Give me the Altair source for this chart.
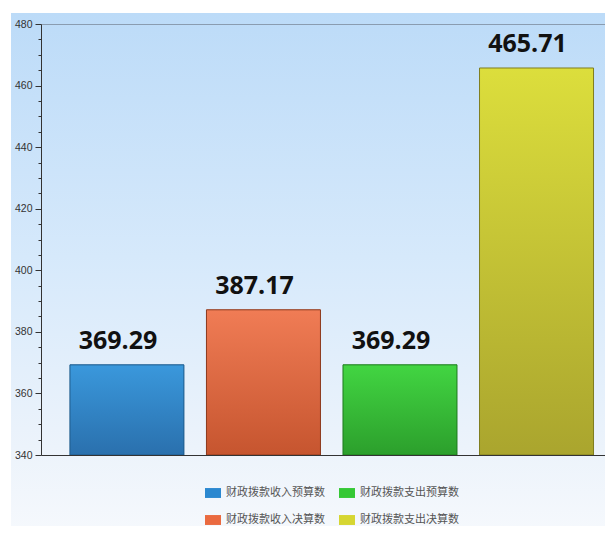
import altair as alt
import pandas as pd

categories = ["财政拨款收入预算数", "财政拨款收入决算数", "财政拨款支出预算数", "财政拨款支出决算数"]
values = [369.29, 387.17, 369.29, 465.71]
legend_colors = ["#2b88d0", "#ea6a40", "#35c835", "#d6d632"]
grad_top = ["#3a98dc", "#f07c55", "#42d542", "#dcde3c"]
grad_bot = ["#2a70ad", "#c6552f", "#2c9f2c", "#aaa52e"]
edge = ["#1f5a8a", "#8c3a1e", "#1f7a1f", "#7f7d1f"]
y_ticks = list(range(340, 481, 5))

W, H = 564, 431

df = pd.DataFrame({"cat": categories, "val": values})

x_enc = alt.X("cat:N", sort=None,
              scale=alt.Scale(paddingInner=0.165, paddingOuter=0.148, align=0.716),
              axis=alt.Axis(labels=False, ticks=False, title=None, domainColor="#333333",
                            domainWidth=1, grid=False, zindex=1))
y_enc = alt.Y("val:Q",
              scale=alt.Scale(domain=[340, 480], zero=False, nice=False, clamp=True),
              axis=alt.Axis(values=y_ticks, title=None,
                            labelExpr="datum.value % 20 === 0 ? datum.label : ''",
                            tickSize={"condition": {"test": "datum.value % 20 === 0", "value": 6}, "value": 3},
                            grid=True,
                            gridColor={"condition": {"test": "datum.value === 480", "value": "#8a9cb0"},
                                       "value": "transparent"},
                            domainColor="#333333", tickColor="#333333",
                            labelFont="Liberation Sans", labelFontSize=10.5, labelColor="#333333",
                            labelPadding=3, zindex=1))

bg = alt.Chart(pd.DataFrame({"a": [0]})).mark_rect(
    fill={"gradient": "linear", "x1": 0, "y1": 0, "x2": 0, "y2": 1,
          "stops": [{"offset": 0, "color": "#bcdbf8"},
                    {"offset": 0.45, "color": "#d6e9fb"},
                    {"offset": 0.8, "color": "#ecf3fb"},
                    {"offset": 1, "color": "#f8fafd"}]}
).encode(x=alt.value(-30), x2=alt.value(W + 20), y=alt.value(-11), y2=alt.value(H + 100))

base = alt.Chart(df).mark_bar().encode(
    x=x_enc, y=y_enc,
    color=alt.Color("cat:N",
                    scale=alt.Scale(domain=categories, range=legend_colors),
                    legend=alt.Legend(title=None, orient="none", legendX=164, legendY=461,
                                      columns=2, columnPadding=14, rowPadding=14,
                                      symbolType="M-1,-0.62H1V0.62H-1Z", symbolSize=256,
                                      symbolStrokeWidth=0,
                                      labelFont="Noto Sans CJK SC", labelFontSize=11,
                                      labelColor="#555555", labelOffset=5))
)

layers = [bg, base]
for i, c in enumerate(categories):
    g = {"gradient": "linear", "x1": 0, "y1": 0, "x2": 0, "y2": 1,
         "stops": [{"offset": 0, "color": grad_top[i]}, {"offset": 1, "color": grad_bot[i]}]}
    layers.append(
        alt.Chart(df).transform_filter(alt.datum.cat == c)
        .mark_bar(fill=g, stroke=edge[i], strokeWidth=1)
        .encode(x=x_enc, y=y_enc)
    )

text = alt.Chart(df).mark_text(dx=-9, dy=-16, baseline="alphabetic", font="Open Sans",
                               fontSize=25, fontWeight="bold", color="#111111").encode(
    x=x_enc, y=y_enc, text=alt.Text("val:Q", format=".2f"))
layers.append(text)

chart = alt.layer(*layers).properties(
    width=W, height=H, autosize="none",
    padding={"left": 33, "top": 16, "right": 0, "bottom": 71},
).configure_view(stroke=None)

chart.save("out.html", embed_options={"renderer": "svg", "actions": False})
